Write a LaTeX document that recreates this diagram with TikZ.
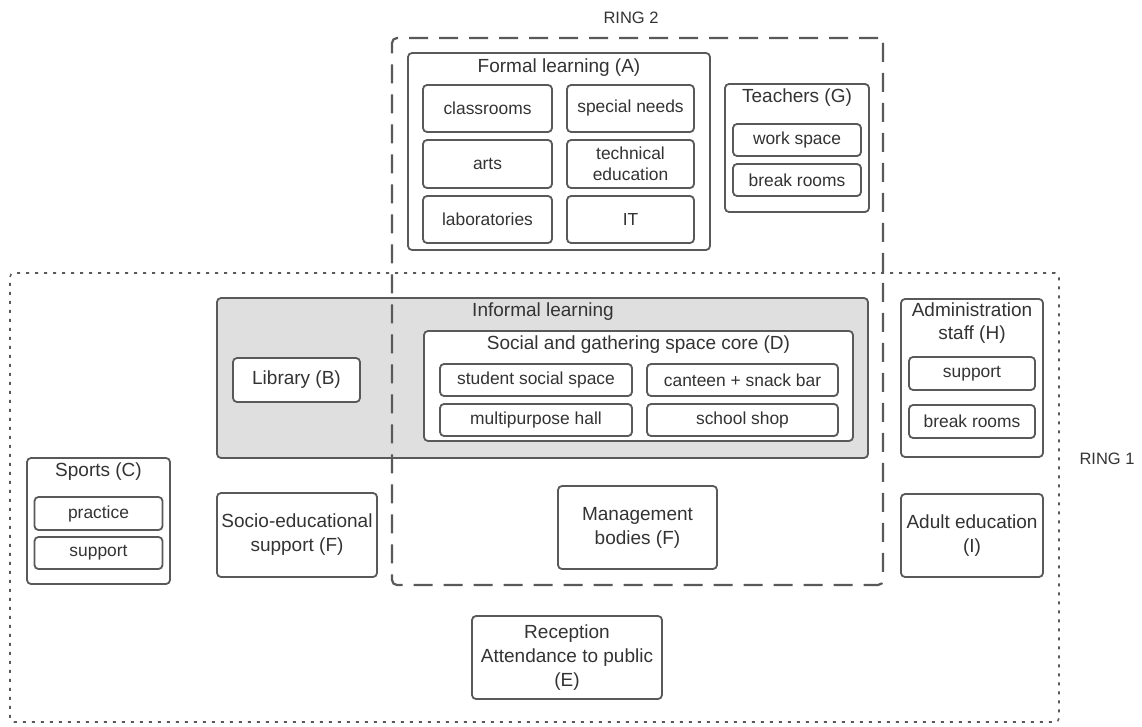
\documentclass[tikz,border=0pt]{standalone}
\usepackage{fontspec}
\setmainfont{Liberation Sans}
\usetikzlibrary{calc}

\definecolor{linegray}{HTML}{595959}
\definecolor{txtgray}{HTML}{333333}
\definecolor{coregray}{HTML}{DEDFDE}

\tikzset{
    box/.style={draw=linegray, line width=1.8pt, rounded corners=4pt, fill=white,
        text=txtgray, align=center, inner sep=0pt,
        font=\fontsize{19}{24}\selectfont},
    cell/.style={box, font=\fontsize{17.4}{21}\selectfont},
    title/.style={text=txtgray, align=center, inner sep=0pt,
        font=\fontsize{19}{23}\selectfont},
    ringlabel/.style={text=txtgray, inner sep=0pt, font=\fontsize{16.5}{20}\selectfont},
}

\begin{document}
\begin{tikzpicture}[x=1pt,y=-1pt]
    \useasboundingbox (0,0) rectangle (1142,727);

    % Ring 1
    \node[draw=linegray, line width=1.6pt, dash pattern=on 3pt off 6pt, rounded corners=4pt,
        minimum width=1049pt, minimum height=449pt] (ring1) at (534.5,497.5) {};
    \node[ringlabel] (ring1 label) at (1107,459) {RING 1};

    % Informal learning
    \node[box, fill=coregray, minimum width=651pt, minimum height=160pt] (informal) at (542.5,378) {};
    \node[title] (informal title) at (543,312) {Informal learning};
    \node[box, minimum width=127pt, minimum height=44pt] (library) at (296.5,380) {Library (B)};

    % Ring 2
    \node[draw=linegray, line width=2.2pt, dash pattern=on 19pt off 11pt, rounded corners=5pt,
        minimum width=491pt, minimum height=547pt] (ring2) at (637.5,311.5) {};
    \node[ringlabel] (ring2 label) at (631,18) {RING 2};

    % Social and gathering space core
    \node[box, minimum width=429pt, minimum height=110pt] (core) at (638.5,386) {};
    \node[title] (core title) at (638.5,345) {Social and gathering space core (D)};
    \node[cell, minimum width=192pt, minimum height=32pt] (social) at (536,380) {student social space};
    \node[cell, minimum width=191pt, minimum height=32pt] (canteen) at (742.5,380) {canteen + snack bar};
    \node[cell, minimum width=192pt, minimum height=32pt] (hall) at (536,420) {multipurpose hall};
    \node[cell, minimum width=191pt, minimum height=32pt] (shop) at (742.5,420) {school shop};

    % Formal learning
    \node[box, minimum width=302pt, minimum height=197pt] (formal) at (559,151.5) {};
    \node[title] (formal title) at (559,68) {Formal learning (A)};
    \node[cell, minimum width=129pt, minimum height=47pt] (classrooms) at (487.5,108.5) {classrooms};
    \node[cell, minimum width=127pt, minimum height=47pt] (needs) at (630.5,108.5) {special needs};
    \node[cell, minimum width=129pt, minimum height=48pt] (arts) at (487.5,164) {arts};
    \node[cell, minimum width=127pt, minimum height=48pt] (technical) at (630.5,164) {technical\\education};
    \node[cell, minimum width=129pt, minimum height=47pt] (labs) at (487.5,219.5) {laboratories};
    \node[cell, minimum width=127pt, minimum height=47pt] (it) at (630.5,219.5) {IT};

    % Teachers
    \node[box, minimum width=144pt, minimum height=128pt] (teachers) at (797,148) {};
    \node[title] (teachers title) at (797,98) {Teachers (G)};
    \node[cell, minimum width=128pt, minimum height=32pt] (workspace) at (797,140) {work space};
    \node[cell, minimum width=128pt, minimum height=32pt] (tbreak) at (797,180) {break rooms};

    % Administration staff
    \node[box, minimum width=142pt, minimum height=158pt] (admin) at (972,378) {};
    \node[title] (admin title) at (972,323) {Administration\\staff (H)};
    \node[cell, minimum width=126pt, minimum height=33pt] (asupport) at (972,373.5) {support};
    \node[cell, minimum width=126pt, minimum height=33pt] (abreak) at (972,421.5) {break rooms};

    % Sports
    \node[box, minimum width=143pt, minimum height=126pt] (sports) at (98.5,521) {};
    \node[title] (sports title) at (98.5,472) {Sports (C)};
    \node[cell, minimum width=128pt, minimum height=33pt] (practice) at (98.5,513.5) {practice};
    \node[cell, minimum width=128pt, minimum height=32pt] (ssupport) at (98.5,553) {support};

    % Single boxes
    \node[box, minimum width=160pt, minimum height=84pt] (socio) at (297,535) {Socio-educational\\support (F)};
    \node[box, minimum width=159pt, minimum height=83pt] (management) at (637.5,527.5) {Management\\bodies (F)};
    \node[box, minimum width=142pt, minimum height=83pt] (adult) at (972,535.5) {Adult education\\(I)};
    \node[box, minimum width=190pt, minimum height=83pt] (reception) at (567,657.5) {Reception\\Attendance to public\\(E)};
\end{tikzpicture}
\end{document}
